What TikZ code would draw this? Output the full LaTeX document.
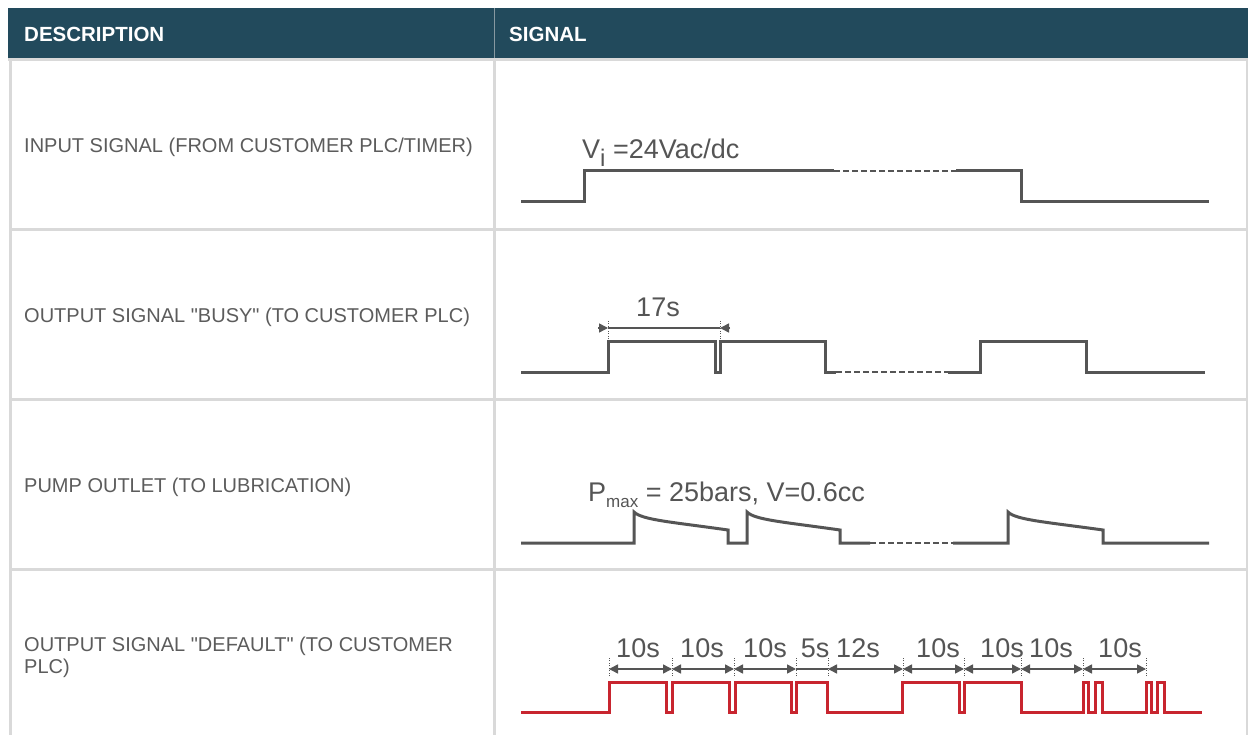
\documentclass[tikz,border=0pt]{standalone}
\usepackage{fontspec}
\setmainfont{Liberation Sans}
\usetikzlibrary{arrows.meta, positioning}

\definecolor{headteal}{RGB}{34,74,92}
\definecolor{gridgray}{RGB}{217,217,217}
\definecolor{wavegray}{RGB}{85,85,85}
\definecolor{wavered}{RGB}{200,37,47}
\definecolor{textgray}{RGB}{92,92,92}

\begin{document}
\begin{tikzpicture}[
        x=1pt, y=-1pt,
        head_text/.style={anchor=west, inner sep=0pt, text=white, font=\fontsize{20.5}{20.5}\selectfont\bfseries},
        desc_text/.style={anchor=north west, inner sep=0pt, align=left, text=textgray, font=\fontsize{20}{22.5}\selectfont},
        sig_label/.style={anchor=base west, inner sep=0pt, text=wavegray, font=\fontsize{27}{27}\selectfont},
        dim_label/.style={anchor=base, inner sep=0pt, text=wavegray, font=\fontsize{27}{27}\selectfont},
        grid_line/.style={gridgray, line width=3pt},
        wave/.style={wavegray, line width=3pt},
        wave_red/.style={wavered, line width=3pt},
        wave_gap/.style={wavegray, line width=2.5pt, dash pattern=on 6pt off 3pt},
        ext_line/.style={wavegray, line width=0.8pt, dash pattern=on 1pt off 1.5pt},
        dim_line/.style={wavegray, line width=1.5pt},
        dim_both/.style={dim_line, {Triangle[length=9pt,width=9pt]}-{Triangle[length=9pt,width=9pt]}},
        dim_in/.style={dim_line, -{Triangle[length=9pt,width=9pt]}}
    ]

    \useasboundingbox (0,0) rectangle (1248,735);
    \fill[white] (0,0) rectangle (1248,735);

    % --- Table frame ---
    \fill[headteal] (8,8) rectangle (1248,58);
    \draw[gridgray!55!headteal, line width=1.5pt] (494.5,8) -- (494.5,58);
    \draw[grid_line] (8,59.5) -- (1248,59.5);
    \draw[grid_line] (10.5,59) -- (10.5,735);
    \draw[grid_line] (494.5,59) -- (494.5,735);
    \draw[grid_line] (1247,59) -- (1247,735);
    \draw[grid_line] (10.5,229.5) -- (1247,229.5);
    \draw[grid_line] (10.5,399.5) -- (1247,399.5);
    \draw[grid_line] (10.5,569.5) -- (1247,569.5);

    \node[head_text] (h_desc) at (24,34) {DESCRIPTION};
    \node[head_text] (h_sig) at (509,34) {SIGNAL};

    % --- Descriptions ---
    \node[desc_text] (d_input) at (24,138) {INPUT SIGNAL (FROM CUSTOMER PLC/TIMER)};
    \node[desc_text] (d_busy) at (24,308) {OUTPUT SIGNAL \textquotedbl BUSY\textquotedbl{} (TO CUSTOMER PLC)};
    \node[desc_text] (d_pump) at (24,478) {PUMP OUTLET (TO LUBRICATION)};
    \node[desc_text] (d_default) at (24,636.5) {OUTPUT SIGNAL \textquotedbl DEFAULT\textquotedbl{} (TO CUSTOMER\\PLC)};

    % --- Row 1: input signal ---
    \draw[wave] (521,202) -- (584,202) -- (584,171) -- (834,171);
    \draw[wave_gap] (834,171) -- (956,171);
    \draw[wave] (956,171) -- (1021,171) -- (1021,202) -- (1209,202);
    \node[sig_label] (v_in) at (582,159) {V\raisebox{-8pt}{\fontsize{24}{24}\selectfont i} =24Vac/dc};

    % --- Row 2: busy signal ---
    \draw[wave] (521,372) -- (608,372) -- (608,342) -- (715,342) -- (715,372) -- (720,372)
        -- (720,342) -- (825,342) -- (825,372) -- (836,372);
    \draw[wave_gap] (836,372) -- (948,372);
    \draw[wave] (948,372) -- (980,372) -- (980,342) -- (1086,342) -- (1086,372) -- (1205,372);

    \coordinate (b1) at (608,328);
    \coordinate (b2) at (720,328);
    \draw[ext_line] (608,321) -- (608,341);
    \draw[ext_line] (720,321) -- (720,341);
    \draw[dim_line] (b1) -- (b2);
    \draw[dim_in] (598,328) -- (b1);
    \draw[dim_in] (730,328) -- (b2);
    \node[dim_label] (t_busy) at (658,317) {17s};

    % --- Row 3: pump outlet ---
    \draw[wave, line join=miter] (521,543) -- (634,543) -- (634,512)
        .. controls (642,520) and (672,522) .. (728,530) -- (728,543) -- (747,543) -- (747,512)
        .. controls (755,520) and (784,522) .. (840,530) -- (840,543) -- (870,543);
    \draw[wave_gap] (870,543) -- (953,543);
    \draw[wave, line join=miter] (953,543) -- (1008,543) -- (1008,512)
        .. controls (1016,520) and (1046,522) .. (1103,530) -- (1103,543) -- (1209,543);
    \node[sig_label] (p_max) at (588,501) {P\raisebox{-6pt}{\fontsize{17}{17}\selectfont max} = 25bars, V=0.6cc};

    % --- Row 4: default signal ---
    \draw[wave_red] (521,712) -- (609,712) -- (609,682) -- (666,682) -- (666,712) -- (672,712)
        -- (672,682) -- (729,682) -- (729,712) -- (735,712) -- (735,682) -- (791,682)
        -- (791,712) -- (796,712) -- (796,682) -- (827,682) -- (827,712) -- (902,712)
        -- (902,682) -- (959,682) -- (959,712) -- (964,712) -- (964,682) -- (1021,682)
        -- (1021,712) -- (1083,712) -- (1083,682) -- (1088,682) -- (1088,712) -- (1095,712)
        -- (1095,682) -- (1102,682) -- (1102,712) -- (1146,712) -- (1146,682) -- (1151,682)
        -- (1151,712) -- (1157,712) -- (1157,682) -- (1164,682) -- (1164,712) -- (1202,712);

    \coordinate (m1) at (609,669);
    \coordinate (m2) at (672,669);
    \coordinate (m3) at (734,669);
    \coordinate (m4) at (796,669);
    \coordinate (m5) at (828,669);
    \coordinate (m6) at (903,669);
    \coordinate (m7) at (964,669);
    \coordinate (m8) at (1021,669);
    \coordinate (m9) at (1083,669);
    \coordinate (m10) at (1146,669);
    \foreach \m in {m1,m2,m3,m4,m5,m6,m7,m8,m9,m10}
        \draw[ext_line] ([yshift=-7pt]\m) -- ([yshift=12pt]\m);

    \draw[dim_both] (m1) -- (m2);
    \draw[dim_both] (m2) -- (m3);
    \draw[dim_both] (m3) -- (m4);
    \draw[dim_line] (m4) -- (m5);
    \draw[dim_both] (m5) -- (m6);
    \draw[dim_both] (m6) -- (m7);
    \draw[dim_both] (m7) -- (m8);
    \draw[dim_both] (m8) -- (m9);
    \draw[dim_both] (m9) -- (m10);

    \node[dim_label] (t1) at (638,657) {10s};
    \node[dim_label] (t2) at (702,657) {10s};
    \node[dim_label] (t3) at (765,657) {10s};
    \node[dim_label] (t4) at (815,657) {5s};
    \node[dim_label] (t5) at (858,657) {12s};
    \node[dim_label] (t6) at (938,657) {10s};
    \node[dim_label] (t7) at (1002,657) {10s};
    \node[dim_label] (t8) at (1051,657) {10s};
    \node[dim_label] (t9) at (1120,657) {10s};

\end{tikzpicture}
\end{document}
